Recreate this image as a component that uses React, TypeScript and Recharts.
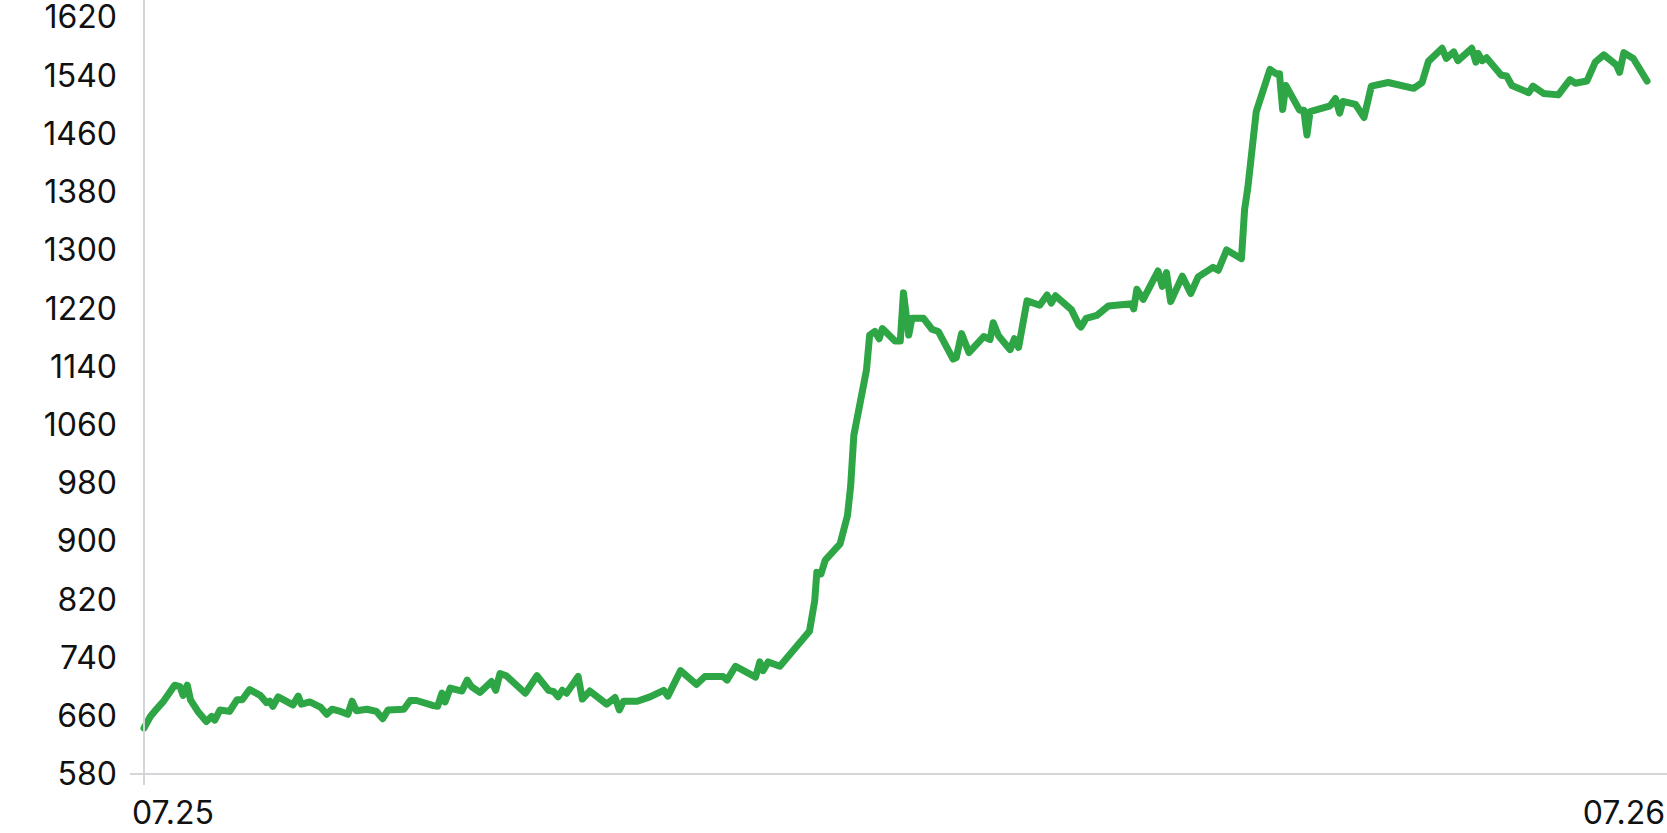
import { LineChart, Line, XAxis, YAxis } from 'recharts';

// minutes since 07.25 00:00
const minutes = [
  0, 6, 10, 18, 29, 34, 37, 41, 44, 51, 59, 64, 67, 72, 81, 88, 93, 100, 110, 116,
  119, 122, 127, 141, 146, 149, 157, 167, 173, 178, 186, 193, 197, 201, 211, 220, 226, 231, 246, 252,
  258, 274, 278, 282, 285, 290, 301, 306, 310, 318, 329, 333, 337, 343, 361, 372, 383, 388, 392, 396,
  400, 411, 415, 422, 438, 446, 450, 454, 467, 479, 492, 496, 508, 523, 531, 548, 552, 560, 579, 583,
  586, 591, 602, 630, 635, 637, 641, 645, 659, 666, 669, 672, 684, 687, 692, 696, 699, 711, 716, 719,
  724, 727, 738, 746, 752, 766, 769, 774, 781, 795, 801, 804, 809, 820, 824, 828, 836, 848, 855, 859,
  863, 878, 885, 887, 892, 902, 913, 935, 937, 940, 946, 960, 964, 968, 972, 983, 991, 998, 1012, 1017,
  1025, 1039, 1042, 1045, 1053, 1066, 1072, 1075, 1078, 1081, 1094, 1098, 1101, 1104, 1123, 1128, 1132, 1135, 1147, 1155,
  1162, 1178, 1202, 1210, 1216, 1229, 1233, 1240, 1244, 1257, 1261, 1263, 1267, 1271, 1285, 1290, 1295, 1311, 1315, 1325,
  1339, 1350, 1355, 1366, 1374, 1382, 1394, 1397, 1401, 1410, 1423,
];

const prices = [
  643, 659, 666, 679, 702, 700, 688, 702, 682, 666, 652, 659, 654, 668, 666, 682, 682, 696, 688, 678,
  680, 673, 686, 675, 687, 676, 679, 672, 662, 669, 666, 662, 680, 667, 669, 666, 656, 668, 669, 681,
  681, 674, 673, 691, 679, 698, 694, 709, 700, 692, 707, 695, 718, 715, 691, 715, 695, 693, 686, 695,
  691, 714, 683, 694, 676, 685, 668, 680, 680, 686, 695, 687, 722, 703, 714, 714, 709, 728, 713, 734,
  722, 734, 728, 776, 818, 857, 855, 874, 896, 935, 975, 1045, 1135, 1183, 1188, 1178, 1192, 1175, 1175, 1241,
  1183, 1206, 1206, 1191, 1188, 1150, 1152, 1185, 1159, 1181, 1177, 1200, 1182, 1163, 1178, 1166, 1230, 1224, 1238, 1227,
  1237, 1218, 1197, 1194, 1206, 1210, 1223, 1226, 1219, 1246, 1232, 1271, 1250, 1269, 1229, 1264, 1240, 1263, 1276, 1272,
  1300, 1288, 1356, 1385, 1490, 1548, 1542, 1542, 1493, 1526, 1492, 1492, 1458, 1490, 1498, 1508, 1488, 1504, 1500, 1482,
  1525, 1530, 1522, 1530, 1559, 1577, 1563, 1572, 1560, 1577, 1558, 1570, 1560, 1564, 1540, 1539, 1526, 1516, 1525, 1515,
  1513, 1534, 1529, 1532, 1558, 1568, 1554, 1544, 1571, 1563, 1532,
];

const yTicks = [580, 660, 740, 820, 900, 980, 1060, 1140, 1220, 1300, 1380, 1460, 1540, 1620];
const xTicks = [0, 1440];
const xTickLabels = ['07.25', '07.26'];

const data = minutes.map((m, i) => ({ t: m, price: prices[i] }));

const WIDTH = 1667;
const HEIGHT = 833;
const PLOT_LEFT = 144;
const PLOT_TOP = 17;
const PLOT_BOTTOM = 774;
const AXIS_COLOR = '#d3d5d9';
const FONT = 'Inter, "Noto Sans", sans-serif';

const DateTick = (props: any) => {
  const { x, y, index } = props;
  const first = index === 0;
  return (
    <text
      x={first ? x - 12 : x}
      y={y + 50}
      textAnchor={first ? 'start' : 'end'}
      fontSize={32}
      fontFamily={FONT}
      fill="#111"
    >
      {xTickLabels[index]}
    </text>
  );
};

export default function App() {
  return (
    <div style={{ position: 'absolute', left: 0, top: 0, width: WIDTH, height: HEIGHT, background: '#fff' }}>
      <LineChart
        width={WIDTH}
        height={HEIGHT}
        data={data}
        margin={{ top: PLOT_TOP, right: 2, bottom: 0, left: 0 }}
      >
        <XAxis
          dataKey="t"
          type="number"
          domain={[0, 1440]}
          ticks={xTicks}
          tick={<DateTick />}
          tickLine={false}
          axisLine={false}
          tickSize={0}
          tickMargin={0}
          height={HEIGHT - PLOT_BOTTOM}
          interval={0}
        />
        <YAxis
          type="number"
          domain={[580, 1620]}
          ticks={yTicks}
          width={PLOT_LEFT}
          tickLine={false}
          axisLine={false}
          tickSize={0}
          tickMargin={27}
          interval={0}
          tick={{ fontSize: 32, fontFamily: FONT, fill: '#111' }}
        />
        <Line
          type="linear"
          dataKey="price"
          stroke="#2ea645"
          strokeWidth={7}
          strokeLinejoin="round"
          strokeLinecap="round"
          dot={false}
          activeDot={false}
          isAnimationActive={false}
        />
      </LineChart>
      <svg
        width={WIDTH}
        height={HEIGHT}
        style={{ position: 'absolute', left: 0, top: 0, pointerEvents: 'none' }}
      >
        <line x1={PLOT_LEFT} x2={PLOT_LEFT} y1={0} y2={PLOT_BOTTOM + 11} stroke={AXIS_COLOR} strokeWidth={2} />
        <line x1={130} x2={WIDTH} y1={PLOT_BOTTOM} y2={PLOT_BOTTOM} stroke={AXIS_COLOR} strokeWidth={2} />
      </svg>
    </div>
  );
}
